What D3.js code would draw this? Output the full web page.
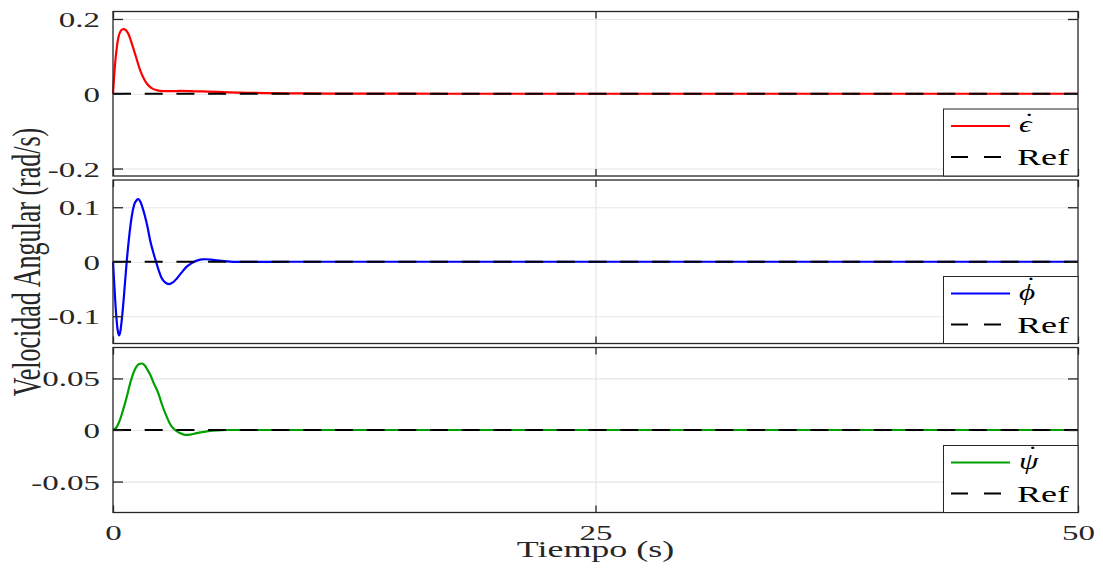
<!DOCTYPE html>
<html>
<head>
<meta charset="utf-8">
<script src="https://cdn.jsdelivr.net/npm/d3@7"></script>
<style>
  html, body { margin: 0; padding: 0; background: #ffffff; }
  svg { display: block; }
</style>
</head>
<body>
<svg id="chart" width="1103" height="569"></svg>
<script>
// ---- data ----------------------------------------------------------------
const timeTicks = [0, 25, 50];
const timeTickLabels = ["0", "25", "50"];

// angular rate of elevation (rad/s)
const epsTime = [0, 0.05, 0.1, 0.2, 0.3, 0.4, 0.5, 0.57, 0.65, 0.8, 1.0, 1.2, 1.4, 1.6, 1.8, 2.0, 2.3, 2.6, 3.0, 3.5, 4.0, 5.0, 6.0, 7.0, 8.0, 10, 12, 15, 20, 30, 40, 50];
const epsDot  = [0, 0.04, 0.075, 0.125, 0.155, 0.168, 0.1725, 0.173, 0.171, 0.160, 0.130, 0.097, 0.064, 0.040, 0.024, 0.015, 0.009, 0.0072, 0.007, 0.0075, 0.0072, 0.0055, 0.0038, 0.0026, 0.0017, 0.0008, 0.0003, 0.0001, 0, 0, 0, 0];

// angular rate of roll (rad/s)
const phiTime = [0, 0.08, 0.16, 0.24, 0.31, 0.38, 0.46, 0.55, 0.71, 0.85, 0.97, 1.1, 1.22, 1.31, 1.42, 1.55, 1.66, 1.8, 1.92, 2.08, 2.23, 2.38, 2.52, 2.7, 2.9, 3.1, 3.3, 3.55, 3.82, 4.1, 4.34, 4.6, 4.8, 5.1, 5.4, 5.9, 6.5, 7.5, 9, 12, 20, 50];
const phiDot  = [0, -0.05, -0.095, -0.125, -0.135, -0.128, -0.105, -0.07, 0, 0.05, 0.083, 0.105, 0.113, 0.115, 0.110, 0.097, 0.083, 0.062, 0.040, 0.018, 0, -0.017, -0.030, -0.038, -0.041, -0.038, -0.031, -0.020, -0.009, -0.002, 0.002, 0.0042, 0.0046, 0.0040, 0.0025, 0.0008, -0.0002, -0.0003, 0, 0, 0, 0];

// angular rate of travel (rad/s)
const psiTime = [0, 0.2, 0.36, 0.5, 0.71, 0.9, 1.05, 1.2, 1.35, 1.49, 1.65, 1.8, 1.92, 2.1, 2.35, 2.55, 2.78, 2.95, 3.12, 3.3, 3.47, 3.73, 4.0, 4.34, 4.7, 5.03, 5.5, 6.0, 7, 9, 12, 20, 50];
const psiDot  = [0, 0.003, 0.0097, 0.018, 0.032, 0.046, 0.055, 0.061, 0.064, 0.0645, 0.0625, 0.058, 0.054, 0.046, 0.0355, 0.024, 0.013, 0.006, 0.0016, -0.001, -0.003, -0.0048, -0.0045, -0.003, -0.0018, -0.0008, -0.0003, 0, 0, 0, 0, 0, 0];

// reference signal
const refTime  = [0, 50];
const refValue = [0, 0];

const epsTicks = [-0.2, 0, 0.2];
const phiTicks = [-0.1, 0, 0.1];
const psiTicks = [-0.05, 0, 0.05];
const epsRange = [-0.22, 0.22];
const phiRange = [-0.15, 0.15];
const psiRange = [-0.08, 0.08];

// legend symbols (each carries an overdot for the time derivative)
const seriesSymbols = ["\u03F5", "\u03D5", "\u03C8"];
const overDot = "\u02D9";
const refLabel = "Ref";
const xLabel = "Tiempo (s)";
const yLabel = "Velocidad Angular (rad/s)";

// ---- layout & style --------------------------------------------------------
const svg = d3.select("#chart");
const left = 113, right = 1078;
const stretch = 1.5;            // horizontal glyph stretch of every label
const serif = "'Liberation Serif', 'Times New Roman', serif";
const axisColor = "#262626";
const gridColor = "#e6e6e6";

const panels = [
  { top: 11.5, bottom: 176,    t: epsTime, v: epsDot, range: epsRange, ticks: epsTicks, color: "#ff0000", symbol: seriesSymbols[0], dotLift: -3 },
  { top: 180,  bottom: 343.5,  t: phiTime, v: phiDot, range: phiRange, ticks: phiTicks, color: "#0000ff", symbol: seriesSymbols[1], dotLift: -7 },
  { top: 347.5, bottom: 512.5, t: psiTime, v: psiDot, range: psiRange, ticks: psiTicks, color: "#00a000", symbol: seriesSymbols[2], dotLift: -7 }
];

const x = d3.scaleLinear().domain([0, 50]).range([left, right]);
const fmt = v => String(v);

panels.forEach((p, i) => {
  const y = d3.scaleLinear().domain(p.range).range([p.bottom, p.top]);
  const g = svg.append("g");

  // grid lines
  const gy = g.append("g").attr("transform", `translate(${left},0)`)
    .call(d3.axisLeft(y).tickValues(p.ticks).tickSize(-(right - left)).tickFormat(""));
  gy.select(".domain").remove();
  gy.selectAll("line").attr("stroke", gridColor).attr("stroke-width", 1.2);

  const gx = g.append("g").attr("transform", `translate(0,${p.bottom})`)
    .call(d3.axisBottom(x).tickValues([25]).tickSize(-(p.bottom - p.top)).tickFormat(""));
  gx.select(".domain").remove();
  gx.selectAll("line").attr("stroke", gridColor).attr("stroke-width", 1.2);

  // data curve
  const line = d3.line()
    .x((d, k) => x(p.t[k]))
    .y(d => y(d))
    .curve(d3.curveMonotoneX);
  g.append("path").datum(p.v)
    .attr("d", line)
    .attr("fill", "none")
    .attr("stroke", p.color)
    .attr("stroke-width", 2.2)
    .attr("stroke-linejoin", "round");

  // reference (dashed, on top)
  const refLine = d3.line().x((d, k) => x(refTime[k])).y(d => y(d));
  g.append("path").datum(refValue)
    .attr("d", refLine)
    .attr("fill", "none")
    .attr("stroke", "#000000")
    .attr("stroke-width", 2)
    .attr("stroke-dasharray", "18,13.7");

  // box
  g.append("rect")
    .attr("x", left).attr("y", p.top)
    .attr("width", right - left).attr("height", p.bottom - p.top)
    .attr("fill", "none").attr("stroke", axisColor).attr("stroke-width", 1.3);

  // inward tick marks on all four sides
  const tickStyle = sel => {
    sel.select(".domain").remove();
    sel.selectAll("line").attr("stroke", axisColor).attr("stroke-width", 1.3);
  };
  g.append("g").attr("transform", `translate(${left},0)`)
    .call(d3.axisLeft(y).tickValues(p.ticks).tickSize(-10).tickFormat(fmt))
    .call(tickStyle)
    .call(s => s.selectAll("text")
      .attr("x", 0).attr("dy", "0.34em")
      .attr("transform", `translate(-13,0) scale(${stretch},1)`)
      .attr("fill", axisColor)
      .style("font-family", serif).style("font-size", "22px"));
  g.append("g").attr("transform", `translate(${right},0)`)
    .call(d3.axisRight(y).tickValues(p.ticks).tickSize(-10).tickFormat(""))
    .call(tickStyle);
  g.append("g").attr("transform", `translate(0,${p.top})`)
    .call(d3.axisTop(x).tickValues(timeTicks).tickSize(-7).tickFormat(""))
    .call(tickStyle);
  g.append("g").attr("transform", `translate(0,${p.bottom})`)
    .call(d3.axisBottom(x).tickValues(timeTicks).tickSize(-7).tickFormat(""))
    .call(tickStyle);

  // legend (bottom-right corner)
  const lx = 943.5, lh = 67, ly = p.bottom - lh;
  const lg = g.append("g");
  lg.append("rect")
    .attr("x", lx).attr("y", ly).attr("width", right - lx).attr("height", lh)
    .attr("fill", "#ffffff").attr("stroke", axisColor).attr("stroke-width", 1);
  const row1 = p.bottom - 50, row2 = p.bottom - 19;
  lg.append("line").attr("x1", 951).attr("x2", 1010).attr("y1", row1).attr("y2", row1)
    .attr("stroke", p.color).attr("stroke-width", 2);
  lg.append("line").attr("x1", 951).attr("x2", 1010).attr("y1", row2).attr("y2", row2)
    .attr("stroke", "#000000").attr("stroke-width", 2).attr("stroke-dasharray", "17,16");

  const sym = lg.append("text")
    .attr("transform", `translate(1019,${row1 + 6}) scale(1.3,1)`)
    .style("font-family", serif).style("font-style", "italic")
    .style("font-size", "24px").attr("fill", "#000000");
  const base = sym.append("tspan").text(p.symbol);
  const dot = sym.append("tspan").text(overDot);
  const wBase = base.node().getComputedTextLength();
  const wDot = dot.node().getComputedTextLength();
  dot.attr("dx", -(wBase / 2 + wDot / 2) + 1.5).attr("dy", p.dotLift);

  lg.append("text")
    .attr("transform", `translate(1017,${row2 + 8}) scale(${stretch},1)`)
    .style("font-family", serif).style("font-size", "24px").attr("fill", "#000000")
    .text(refLabel);

  // shared time tick labels under the last panel
  if (i === panels.length - 1) {
    const xa = g.append("g").attr("transform", `translate(0,${p.bottom})`)
      .call(d3.axisBottom(x).tickValues(timeTicks).tickSize(0).tickFormat((d, k) => timeTickLabels[k]));
    xa.select(".domain").remove();
    xa.selectAll("text")
      .attr("y", 0).attr("dy", 0)
      .attr("transform", `translate(0,27.5) scale(${stretch},1)`)
      .attr("fill", axisColor)
      .style("font-family", serif).style("font-size", "22px");
  }
});

// axis titles
svg.append("text")
  .attr("transform", `translate(${(left + right) / 2},557) scale(${stretch},1)`)
  .attr("text-anchor", "middle")
  .style("font-family", serif).style("font-size", "24px").attr("fill", axisColor)
  .text(xLabel);

svg.append("text")
  .attr("transform", `translate(40,262) scale(${stretch},1) rotate(-90)`)
  .attr("text-anchor", "middle")
  .style("font-family", serif).style("font-size", "26px").attr("fill", axisColor)
  .text(yLabel);
</script>
</body>
</html>
